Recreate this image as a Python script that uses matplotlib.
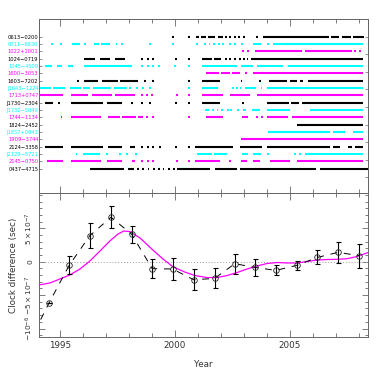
import numpy as np
import matplotlib
matplotlib.use("Agg")
import matplotlib.pyplot as plt
from matplotlib.ticker import MultipleLocator, FixedLocator

# ---------------- data ----------------
pulsars = ["0613\u22120200", "0711\u22126830", "1022+1001", "1024\u22120719",
           "1045\u22124509", "1600\u22123053", "1603\u22127202", "J1643\u22121224",
           "1713+0747", "J1730\u22122304", "J1732\u22125049", "1744\u22121134",
           "1824\u22122452", "J1857+0943", "1909\u22123744", "2124\u22123358",
           "J2129\u22125721", "2145\u22120750", "0437\u22124715"]
row_colors = ["black", "#00ffff", "#ff00ff"]

# observation spans (start, end) in years; equal start/end = single epoch
obs_spans = [
    [(1999.93, 1999.93), (2000.62, 2000.62), (2000.91, 2001.05), (2001.15, 2001.35), (2001.45, 2001.75),
     (2001.85, 2002.1), (2002.2, 2002.2), (2002.4, 2002.4), (2002.6, 2002.6), (2002.8, 2002.8),
     (2003.0, 2003.0), (2003.55, 2003.55), (2003.84, 2006.7), (2006.8, 2007.15), (2007.25, 2007.65),
     (2007.75, 2008.2)],
    [(1994.64, 1994.64), (1995.04, 1995.04), (1995.54, 1995.87), (1996.09, 1996.09), (1996.49, 1996.7),
     (1996.8, 1997.17), (1997.46, 1997.46), (1997.68, 1997.68), (1998.91, 1998.91), (1999.92, 1999.92),
     (2000.94, 2000.94), (2001.3, 2001.3), (2001.5, 2001.5), (2001.7, 2001.7), (2001.9, 2001.9),
     (2002.1, 2002.1), (2002.4, 2002.4), (2002.6, 2002.6), (2002.9, 2002.9), (2003.4, 2003.76),
     (2004.05, 2004.05), (2004.27, 2008.19)],
    [(2002.97, 2002.97), (2003.19, 2003.19), (2003.47, 2005.5), (2005.65, 2007.68), (2007.82, 2007.82),
     (2008.04, 2008.04)],
    [(1996.06, 1996.52), (1996.74, 1997.17), (1997.39, 1997.83), (1998.55, 1998.55), (1998.81, 1998.81),
     (1999.06, 1999.06), (2000.04, 2000.04), (2000.62, 2000.62), (2001.16, 2001.6), (2001.7, 2002.0),
     (2002.2, 2002.2), (2002.4, 2002.4), (2002.6, 2002.6), (2002.83, 2002.83), (2003.0, 2003.0),
     (2003.15, 2003.15), (2003.3, 2008.19)],
    [(1994.35, 1994.64), (1994.86, 1995.07), (1995.36, 1995.58), (1996.06, 1998.12), (1998.55, 1998.55),
     (1998.84, 1998.84), (1999.06, 1999.06), (1999.32, 1999.32), (2000.0, 2000.0), (2000.62, 2000.62),
     (2001.16, 2002.68), (2002.89, 2003.4), (2003.55, 2004.7), (2004.92, 2008.19)],
    [(2001.34, 2001.9), (2002.0, 2002.4), (2002.5, 2002.82), (2003.1, 2003.1), (2003.4, 2008.19)],
    [(1995.8, 1995.8), (1996.06, 1996.67), (1996.81, 1997.54), (1997.61, 1998.4), (1998.7, 1998.7),
     (1999.06, 1999.06), (2000.62, 2000.62), (2001.16, 2001.95), (2002.89, 2002.89), (2003.69, 2003.69),
     (2004.1, 2004.85), (2005.0, 2005.29), (2005.43, 2005.58), (2005.8, 2008.19)],
    [(1994.1, 1994.6), (1994.7, 1995.2), (1995.43, 1995.9), (1996.0, 1996.3), (1996.45, 1997.2),
     (1997.35, 1997.9), (1998.05, 1998.05), (1998.35, 1998.35), (1998.6, 1998.6), (1998.9, 1998.9),
     (2000.62, 2000.62), (2001.16, 2001.88), (2002.53, 2002.53), (2002.68, 2002.68), (2002.85, 2002.85),
     (2003.05, 2003.5), (2003.76, 2003.76), (2004.0, 2008.19)],
    [(1994.13, 1995.14), (1995.5, 1996.23), (1996.38, 1997.25), (1997.39, 1998.26), (1998.55, 1998.55),
     (1998.8, 1998.8), (1999.0, 1999.0), (2000.07, 2000.07), (2000.62, 2000.62), (2001.16, 2002.1),
     (2002.39, 2003.26), (2003.55, 2008.19)],
    [(1994.35, 1994.71), (1994.95, 1994.95), (1995.5, 1996.88), (1997.03, 1997.68), (1998.12, 1998.12),
     (1998.55, 1998.55), (1998.9, 1998.9), (2000.04, 2000.04), (2000.62, 2000.62), (2001.16, 2001.96),
     (2002.97, 2002.97), (2003.98, 2004.95), (2005.05, 2005.4), (2005.5, 2008.19)],
    [(2001.3, 2001.5), (2001.65, 2001.65), (2001.85, 2001.85), (2002.0, 2002.1), (2002.3, 2002.3),
     (2002.45, 2002.45), (2002.7, 2002.8), (2002.95, 2003.1), (2003.33, 2003.7), (2003.98, 2005.0),
     (2005.87, 2008.19)],
    [(1995.07, 1995.07), (1995.5, 1996.8), (1997.1, 1997.6), (1997.7, 1998.3), (1998.4, 1998.6),
     (1998.8, 1998.8), (1999.06, 1999.06), (2000.62, 2000.62), (2001.37, 2002.1), (2002.9, 2003.19),
     (2003.55, 2003.55), (2003.77, 2003.77), (2003.98, 2004.9), (2005.1, 2008.19)],
    [(2005.29, 2008.19)],
    [(2004.06, 2006.74), (2006.88, 2007.4), (2007.75, 2008.19)],
    [(2002.89, 2008.19)],
    [(1994.35, 1995.14), (1995.5, 1996.88), (1997.1, 1997.68), (1998.04, 1998.26), (1998.55, 1998.55),
     (1998.84, 1998.84), (1999.06, 1999.06), (1999.35, 1999.35), (2000.04, 2000.04), (2000.62, 2000.62),
     (2000.87, 2002.53), (2002.83, 2003.77), (2003.98, 2006.74), (2006.88, 2007.17), (2007.53, 2007.68),
     (2007.82, 2008.19)],
    [(1995.72, 1995.72), (1996.01, 1996.74), (1997.03, 1997.03), (1997.61, 1997.61), (1997.9, 1997.9),
     (1998.3, 1998.3), (2000.94, 2001.6), (2001.7, 2002.25), (2002.9, 2003.19), (2003.4, 2003.76),
     (2004.06, 2004.06), (2005.22, 2005.22), (2005.43, 2005.43), (2005.65, 2008.19)],
    [(1994.42, 1995.14), (1995.5, 1996.8), (1997.03, 1997.68), (1998.12, 1998.26), (1998.55, 1998.55),
     (1998.84, 1998.84), (1999.06, 1999.06), (2000.07, 2000.07), (2000.62, 2000.62), (2000.87, 2001.95),
     (2002.39, 2002.39), (2002.89, 2003.11), (2003.4, 2003.69), (2004.13, 2005.0), (2005.29, 2008.19)],
    [(1996.3, 1997.8), (1997.95, 1998.2), (1998.4, 1998.4), (1998.6, 1998.6), (1998.85, 1998.85),
     (1999.1, 1999.1), (1999.3, 1999.3), (1999.5, 1999.5), (1999.75, 1999.75), (1999.95, 1999.95),
     (2000.07, 2001.52), (2001.74, 2002.68), (2002.82, 2006.15), (2006.3, 2008.4)],
]

# clock difference points
clk_year = [1993.63, 1994.53, 1995.40, 1996.30, 1997.22, 1998.12, 1999.01, 1999.90, 2000.81,
            2001.72, 2002.60, 2003.48, 2004.38, 2005.29, 2006.19, 2007.09, 2008.00]
clk_val = [-1.23e-6, -6.15e-7, -5.5e-8, 3.9e-7, 6.66e-7, 4.1e-7, -1.04e-7, -1.09e-7, -2.7e-7,
           -2.5e-7, -3.0e-8, -8.5e-8, -1.3e-7, -5.5e-8, 6.4e-8, 1.4e-7, 9.0e-8]
clk_err = [0, 0, 1.35e-7, 1.9e-7, 1.65e-7, 1.3e-7, 1.45e-7, 1.6e-7, 1.6e-7,
           1.5e-7, 1.5e-7, 1.25e-7, 7.5e-8, 6.7e-8, 1.05e-7, 1.55e-7, 1.8e-7]

# smooth model curve (magenta)
fit_year = [1994.09, 1994.57, 1995.00, 1995.43, 1995.87, 1996.30, 1996.74, 1997.17, 1997.52,
            1997.78, 1998.04, 1998.48, 1999.04, 1999.48, 1999.91, 2000.43, 2000.87, 2001.39,
            2001.83, 2002.26, 2002.70, 2003.13, 2003.57, 2004.00, 2004.43, 2004.87, 2005.30,
            2005.74, 2006.17, 2006.61, 2007.04, 2007.48, 2007.91, 2008.39]
fit_val = [-3.48e-7, -3.18e-7, -2.58e-7, -1.99e-7, -1.09e-7, 1.0e-8, 1.6e-7, 3.1e-7, 4.14e-7,
           4.6e-7, 4.5e-7, 3.55e-7, 1.75e-7, 4.0e-8, -7.5e-8, -1.55e-7, -2.07e-7, -2.37e-7,
           -2.37e-7, -2.07e-7, -1.62e-7, -1.09e-7, -6.4e-8, -2.7e-8, -1.2e-8, -1.9e-8, -1.9e-8,
           3.0e-9, 2.5e-8, 3.3e-8, 3.6e-8, 4.5e-8, 7.8e-8, 1.37e-7]

ytick_vals = [-1e-6, -5e-7, 0, 5e-7]
ytick_labels = [r"$-10^{-6}$", r"$-5\times10^{-7}$", r"$0$", r"$5\times10^{-7}$"]
xtick_vals = [1995, 2000, 2005]

# ---------------- plot ----------------
plt.rcParams['font.family'] = ['DejaVu Sans']
plt.rcParams['mathtext.fontset'] = 'dejavusans'
txt = '#333333'
spine_c = '#666666'
XL = (1994.09, 2008.39)

fig = plt.figure(figsize=(3.88, 3.88), dpi=100)
ax1 = fig.add_axes([0.1005, 0.5026, 0.848, 0.4485])
ax2 = fig.add_axes([0.1005, 0.1314, 0.848, 0.3711])

# top panel
for i, spans in enumerate(obs_spans):
    col = row_colors[i % 3]
    for s, e in spans:
        if e - s < 0.08:
            m = 0.5 * (s + e)
            s, e = m - 0.04, m + 0.04
        ax1.plot([s, e], [i, i], color=col, lw=1.5, solid_capstyle='butt')
ax1.set_xlim(*XL)
ax1.set_ylim(21.32, -2.41)
ax1.set_yticks(range(len(pulsars)))
ax1.set_yticklabels(pulsars, fontsize=3.7)
for lab, i in zip(ax1.get_yticklabels(), range(len(pulsars))):
    lab.set_color(row_colors[i % 3])
ax1.tick_params(axis='y', direction='in', length=2, pad=0.5, color=spine_c, width=0.5)
ax1.xaxis.set_major_locator(FixedLocator(xtick_vals))
ax1.xaxis.set_minor_locator(MultipleLocator(1))
ax1.tick_params(axis='x', which='both', direction='in', top=True, bottom=True,
                labelbottom=False, color=spine_c, width=0.6)
ax1.tick_params(axis='x', which='major', length=5)
ax1.tick_params(axis='x', which='minor', length=3)
axr = ax1.twinx()
axr.set_ylim(21.32, -2.41)
axr.set_yticks(np.arange(0, 20, 2.4))
axr.tick_params(axis='y', direction='in', length=2.5, labelright=False, color=spine_c, width=0.5)
for a in (ax1, axr):
    for sp in a.spines.values():
        sp.set_color(spine_c)
        sp.set_linewidth(0.7)

# bottom panel
ax2.axhline(0, color='#999999', lw=0.7, ls=(0, (1, 2)))
ax2.plot(fit_year, fit_val, color='#ff00ff', lw=0.9, zorder=3)
ax2.plot(clk_year, clk_val, color='black', lw=0.7, dashes=(7, 7), zorder=4)
ax2.errorbar(clk_year, clk_val, yerr=clk_err, fmt='none', ecolor='black', elinewidth=0.8,
             capsize=1.8, capthick=0.8, zorder=5)
ax2.plot(clk_year, clk_val, ls='none', marker='o', ms=4, mfc='none', mec='#222222', mew=0.6, zorder=6)
ax2.set_xlim(*XL)
ax2.set_ylim(-1.127e-6, 1.028e-6)
ax2.xaxis.set_major_locator(FixedLocator(xtick_vals))
ax2.xaxis.set_minor_locator(MultipleLocator(1))
ax2.set_xticklabels([str(v) for v in xtick_vals], fontsize=6.3, color=txt)
ax2.yaxis.set_major_locator(FixedLocator(ytick_vals))
ax2.yaxis.set_minor_locator(MultipleLocator(1e-7))
ax2.set_yticklabels(ytick_labels, fontsize=5.4, color=txt, rotation=90, va='center')
ax2.tick_params(axis='both', which='both', direction='in', top=True, right=True,
                color=spine_c, width=0.6)
ax2.tick_params(axis='x', which='major', length=5, pad=3)
ax2.tick_params(axis='x', which='minor', length=3)
ax2.tick_params(axis='y', which='major', length=4, pad=3)
ax2.tick_params(axis='y', which='minor', length=2.5)
for sp in ax2.spines.values():
    sp.set_color(spine_c)
    sp.set_linewidth(0.7)
ax2.set_xlabel("Year", fontsize=6.3, color=txt, labelpad=7)
ax2.set_ylabel("Clock difference (sec)", fontsize=6.3, color=txt, labelpad=4)

fig.savefig("out.png", dpi=100)
